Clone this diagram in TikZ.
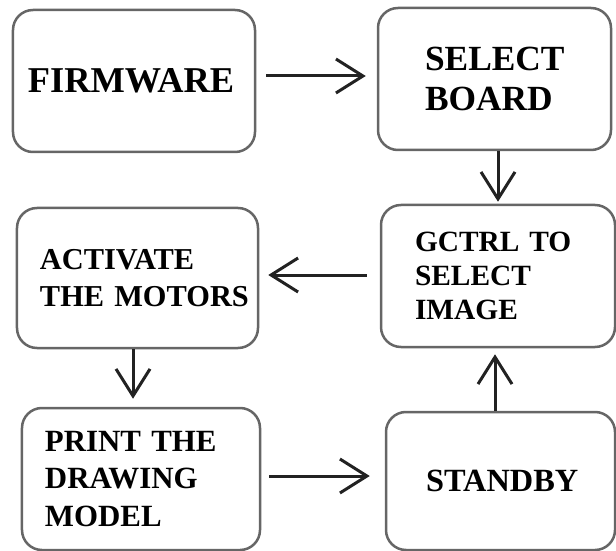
\documentclass[tikz,border=0pt]{standalone}
\usepackage{fontspec}
\setmainfont{Liberation Serif}
\usetikzlibrary{arrows.meta}
\definecolor{boxline}{HTML}{666666}
\definecolor{arrowline}{HTML}{222222}
\tikzset{
  stepbox/.style={draw=boxline, line width=2.5bp, rounded corners=20bp, fill=white,
    align=left, inner ysep=0pt},
  flow/.style={draw=arrowline, line width=3bp,
    -{Straight Barb[length=27bp, width=34bp, line width=3bp]}}
}
% bold label text at a given size and leading, never hyphenated
\newcommand{\boxfont}[2]{\bfseries\fontsize{#1}{#2}\selectfont\hyphenpenalty=10000\exhyphenpenalty=10000\hbadness=10000\hfuzz=100pt}
\begin{document}
\begin{tikzpicture}[x=1bp, y=-1bp]
  \useasboundingbox (0,0) rectangle (616,551);

  % process boxes
  \node[stepbox, minimum height=142bp, inner xsep=15bp, text width=212bp,
        font=\boxfont{36.5}{40}] (b1) at (134,81) {FIRMWARE};
  \node[stepbox, minimum height=142bp, inner xsep=47bp, text width=139bp,
        font=\boxfont{35.5}{40}] (b2) at (494.5,79) {SELECT\\BOARD};
  \node[stepbox, minimum height=142bp, inner xsep=34bp, text width=166bp,
        font=\boxfont{29.5}{34}] (b3) at (498,276) {GCTRL~TO\\SELECT\\IMAGE};
  \node[stepbox, minimum height=140bp, inner xsep=23bp, text width=195bp,
        font=\boxfont{30.5}{37}] (b4) at (137.5,278) {ACTIVATE\\THE~MOTORS};
  \node[stepbox, minimum height=142bp, inner xsep=23bp, text width=192bp,
        font=\boxfont{31}{37.5}] (b5) at (141,479) {PRINT~THE\\DRAWING\\MODEL};
  \node[stepbox, minimum height=138bp, inner xsep=40bp, text width=149bp,
        font=\boxfont{32.5}{38}] (b6) at (500.5,481) {STANDBY};

  % connectors
  \draw[flow, shorten <=10bp, shorten >=11bp]
    ([yshift=5bp]b1.east) -- ([yshift=5bp]b1.east -| b2.west);
  \draw[flow, shorten >=2bp]
    ([xshift=3.5bp]b2.south) -- ([xshift=3.5bp]b2.south |- b3.north);
  \draw[flow, shorten <=13bp, shorten >=9bp]
    ([yshift=1bp]b3.west) -- ([yshift=1bp]b3.west -| b4.east);
  \draw[flow, shorten >=8bp]
    ([xshift=-4.5bp]b4.south) -- ([xshift=-4.5bp]b4.south |- b5.north);
  \draw[flow, shorten <=8bp, shorten >=15bp]
    ([yshift=3bp]b5.east) -- ([yshift=3bp]b5.east -| b6.west);
  \draw[flow, shorten >=6bp]
    ([xshift=-5.5bp]b6.north) -- ([xshift=-5.5bp]b6.north |- b3.south);
\end{tikzpicture}
\end{document}
